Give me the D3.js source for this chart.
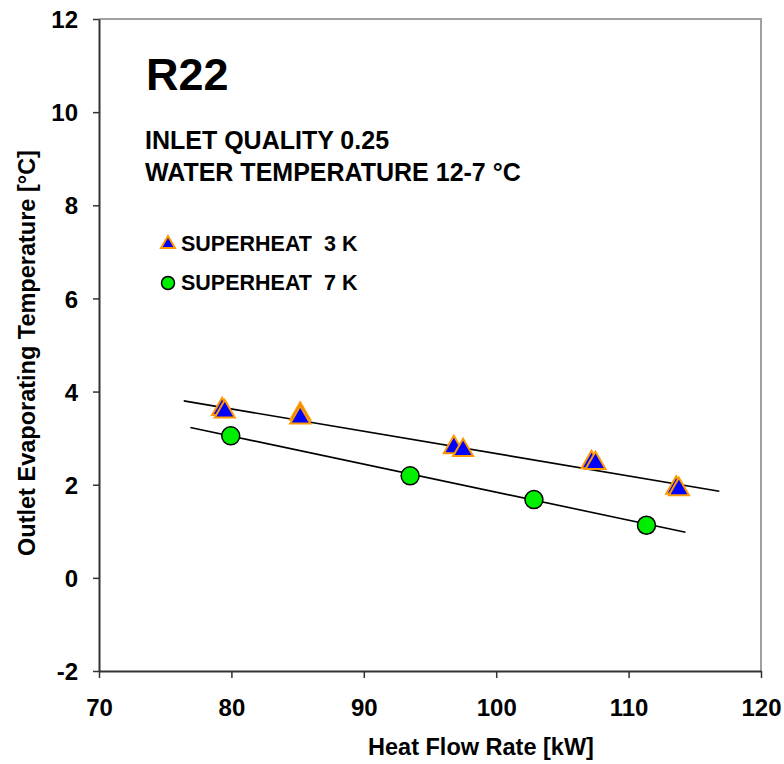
<!DOCTYPE html>
<html>
<head>
<meta charset="utf-8">
<script src="https://cdn.jsdelivr.net/npm/d3@7"></script>
<style>
  html, body { margin: 0; padding: 0; background: #fff; }
  svg { display: block; font-family: Arial, "Liberation Sans", sans-serif; font-weight: bold; }
</style>
</head>
<body>
<svg id="chart" width="784" height="764"></svg>
<script>
// Measured points: heat flow rate [kW] vs outlet evaporating temperature [°C]
const sh3Flow = [79.3, 79.5, 85.2, 85.2, 96.8, 97.5, 107.2, 107.5, 113.6, 113.8];
const sh3Temp = [3.62, 3.57, 3.52, 3.44, 2.80, 2.74, 2.48, 2.46, 1.93, 1.90];
const sh7Flow = [79.95, 93.5, 102.85, 111.35];
const sh7Temp = [3.05, 2.19, 1.68, 1.13];

// Linear trend lines (start / end of each fitted line)
const trend3Flow = [76.4, 116.85];
const trend3Temp = [3.80, 1.86];
const trend7Flow = [76.9, 114.3];
const trend7Temp = [3.23, 0.98];

const xTicks = [70, 80, 90, 100, 110, 120];
const yTicks = [-2, 0, 2, 4, 6, 8, 10, 12];

const seriesNames = ["SUPERHEAT  3 K", "SUPERHEAT  7 K"];
const infoLines = ["INLET QUALITY 0.25", "WATER TEMPERATURE 12-7 °C"];
const refrigerant = "R22";

const svg = d3.select("#chart");
const plotLeft = 99, plotRight = 761, plotTop = 19, plotBottom = 671;

const x = d3.scaleLinear().domain([70, 120]).range([plotLeft, plotRight]);
const y = d3.scaleLinear().domain([-2, 12]).range([plotBottom, plotTop]);

// Plot frame (top and right edges)
svg.append("path")
  .attr("d", `M${plotLeft},${plotTop}H${plotRight}V${plotBottom}`)
  .attr("fill", "none")
  .attr("stroke", "#a0a0a0")
  .attr("stroke-width", 2);

// Axes (plain hyphen for negative labels)
const fmt = d => String(d);
const yAxis = svg.append("g")
  .attr("transform", `translate(${plotLeft},0)`)
  .call(d3.axisLeft(y).tickValues(yTicks).tickFormat(fmt).tickSize(6).tickSizeOuter(0).tickPadding(15));
const xAxis = svg.append("g")
  .attr("transform", `translate(0,${plotBottom})`)
  .call(d3.axisBottom(x).tickValues(xTicks).tickFormat(fmt).tickSize(7).tickSizeOuter(0).tickPadding(21));

[yAxis, xAxis].forEach(g => {
  g.select(".domain").attr("stroke", "#333").attr("stroke-width", 2);
  g.selectAll(".tick line").attr("stroke", "#333").attr("stroke-width", 1.5);
  g.selectAll(".tick text")
    .attr("fill", "#000")
    .style("font-family", "Arial, 'Liberation Sans', sans-serif")
    .style("font-weight", "bold")
    .style("font-size", "24px");
});
yAxis.selectAll(".tick text").attr("dy", "0.36em");

// Axis titles
svg.append("text")
  .attr("x", 481).attr("y", 755)
  .attr("text-anchor", "middle")
  .style("font-size", "23.5px")
  .text("Heat Flow Rate [kW]");
svg.append("text")
  .attr("transform", `translate(35,353) rotate(-90)`)
  .attr("text-anchor", "middle")
  .style("font-size", "23.5px")
  .text("Outlet Evaporating Temperature [°C]");

// Annotations
svg.append("text")
  .attr("x", 146).attr("y", 90)
  .style("font-size", "45px")
  .text(refrigerant);
svg.selectAll(".info").data(infoLines).enter().append("text")
  .attr("class", "info")
  .attr("x", 145)
  .attr("y", (d, i) => 149 + i * 32)
  .style("font-size", "25px")
  .text(d => d);

// Trend lines
const line = d3.line().x(d => x(d[0])).y(d => y(d[1]));
[[trend3Flow, trend3Temp], [trend7Flow, trend7Temp]].forEach(([fx, ty]) => {
  svg.append("path")
    .attr("d", line(d3.zip(fx, ty)))
    .attr("fill", "none")
    .attr("stroke", "#000")
    .attr("stroke-width", 1.6);
});

// Superheat 3 K markers
const tri = d3.symbol().type(d3.symbolTriangle).size(175);
svg.selectAll(".sh3").data(d3.zip(sh3Flow, sh3Temp)).enter().append("path")
  .attr("class", "sh3")
  .attr("d", tri)
  .attr("transform", d => `translate(${x(d[0])},${y(d[1])})`)
  .attr("fill", "#0000ff")
  .attr("stroke", "#ff9900")
  .attr("stroke-width", 2);

// Superheat 7 K markers
svg.selectAll(".sh7").data(d3.zip(sh7Flow, sh7Temp)).enter().append("circle")
  .attr("class", "sh7")
  .attr("cx", d => x(d[0]))
  .attr("cy", d => y(d[1]))
  .attr("r", 9)
  .attr("fill", "#00ee00")
  .attr("stroke", "#000")
  .attr("stroke-width", 1.5);

// Legend
const legend = svg.append("g");
legend.append("path")
  .attr("d", d3.symbol().type(d3.symbolTriangle).size(85)())
  .attr("transform", "translate(168,244)")
  .attr("fill", "#0000ff")
  .attr("stroke", "#ff9900")
  .attr("stroke-width", 2);
legend.append("circle")
  .attr("cx", 168).attr("cy", 283).attr("r", 6.5)
  .attr("fill", "#00ee00")
  .attr("stroke", "#000")
  .attr("stroke-width", 1.5);
legend.selectAll("text").data(seriesNames).enter().append("text")
  .attr("x", 181)
  .attr("y", (d, i) => 251 + i * 39)
  .style("font-size", "21.5px")
  .style("white-space", "pre")
  .text(d => d);
</script>
</body>
</html>
